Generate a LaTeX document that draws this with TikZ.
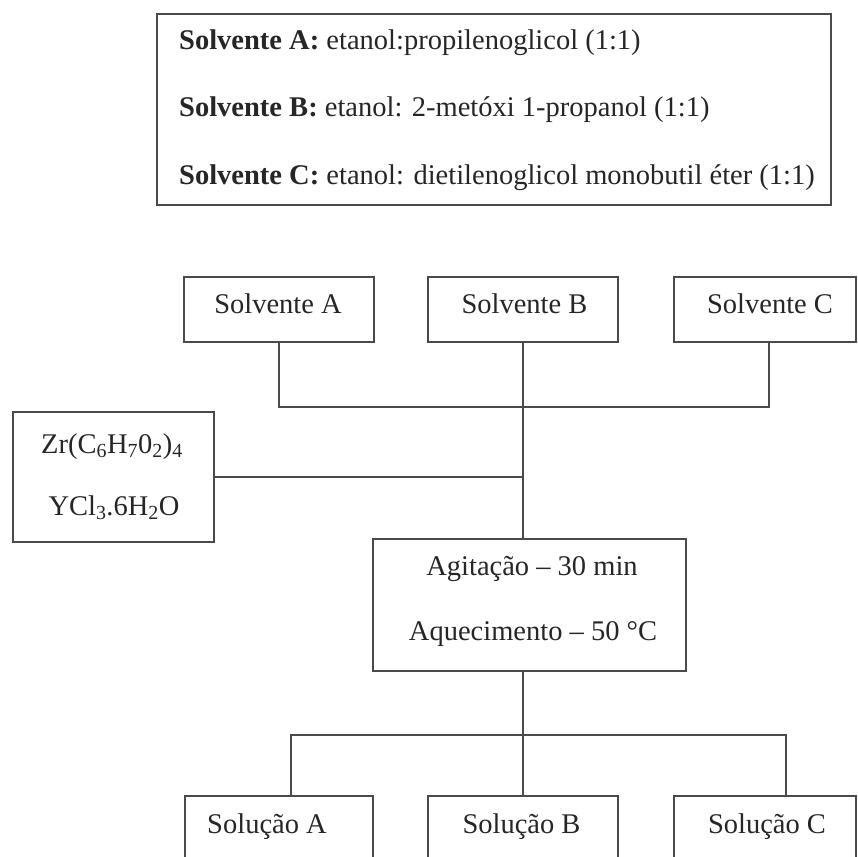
\documentclass[tikz,border=0pt]{standalone}
\usepackage{fontspec}
\setmainfont{Liberation Serif}
\definecolor{linegray}{HTML}{4A4A4A}
\definecolor{textcol}{HTML}{262626}
\begin{document}
\begin{tikzpicture}[x=1pt,y=-1pt,
  box/.style={draw=linegray, line width=2pt, inner sep=0pt},
  conn/.style={draw=linegray, line width=2pt},
  txt/.style={inner sep=0pt, text=textcol, font=\fontsize{28.5}{34}\selectfont, anchor=base}]
\clip (0,0) rectangle (858,856);
\fill[white] (0,0) rectangle (858,856);
% boxes
\node[box, minimum width=674pt, minimum height=191pt] (legend) at (494,109.5) {};
\node[box, minimum width=190pt, minimum height=65pt] (sA) at (279,309.5) {};
\node[box, minimum width=190pt, minimum height=65pt] (sB) at (523,309.5) {};
\node[box, minimum width=182pt, minimum height=65pt] (sC) at (765,309.5) {};
\node[box, minimum width=201pt, minimum height=130pt] (zr) at (113.5,477) {};
\node[box, minimum width=313pt, minimum height=132pt] (ag) at (529.5,605) {};
\node[box, minimum width=188pt, minimum height=90pt] (oA) at (279,841) {};
\node[box, minimum width=190pt, minimum height=90pt] (oB) at (523,841) {};
\node[box, minimum width=182pt, minimum height=90pt] (oC) at (765,841) {};
% connectors
\coordinate (j1) at (523,407);
\coordinate (j2) at (523,735);
\draw[conn] (sA.south) |- (j1) -| ([xshift=4pt]sC.south);
\draw[conn] (sB.south) -- (sB.south |- ag.north);
\draw[conn] (zr.east) -- (zr.east -| sB.south);
\draw[conn] (ag.south -| sB.south) -- (oB.north);
\draw[conn] ([xshift=12pt]oA.north) |- (j2) -| ([xshift=21pt]oC.north);
% texts
\node[txt, anchor=base west] (l1) at (179,50) {\textbf{Solvente A:} etanol:propilenoglicol (1:1)};
\node[txt, anchor=base west] (l2) at (179,117) {\textbf{Solvente B:} etanol: 2-metóxi 1-propanol (1:1)};
\node[txt, anchor=base west] (l3) at (179,184) {\textbf{Solvente C:} etanol: dietilenoglicol monobutil éter (1:1)};
\node[txt] (tsA) at (278,313) {Solvente A};
\node[txt] (tsB) at (524.5,313) {Solvente B};
\node[txt] (tsC) at (770,313) {Solvente C};
\node[txt] (tz1) at (112,453) {Zr(C\textsubscript{6}H\textsubscript{7}0\textsubscript{2})\textsubscript{4}};
\node[txt] (tz2) at (114,515) {YCl\textsubscript{3}.6H\textsubscript{2}O};
\node[txt] (ta1) at (532,575) {Agitação – 30 min};
\node[txt] (ta2) at (533,640) {Aquecimento – 50 °C};
\node[txt] (toA) at (267,833) {Solução A};
\node[txt] (toB) at (521.5,833) {Solução B};
\node[txt] (toC) at (767,833) {Solução C};
\end{tikzpicture}
\end{document}
